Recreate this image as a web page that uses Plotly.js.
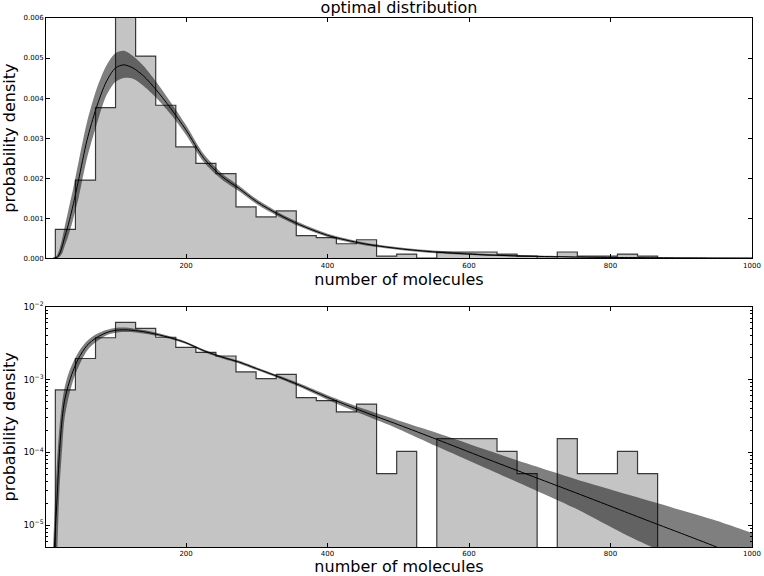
<!DOCTYPE html>
<html>
<head>
<meta charset="utf-8">
<script src="https://cdn.plot.ly/plotly-3.0.1.min.js"></script>
<style>html,body{margin:0;padding:0;background:#fff;}#chart{width:764px;height:576px;}</style>
</head>
<body>
<div id="chart"></div>
<script>
// Histogram bin edges (number of molecules) and densities
const binEdges = [15.2, 43.6, 72.0, 100.3, 128.7, 157.1, 185.5, 213.9, 242.2, 270.6, 299.0,
  327.4, 355.8, 384.1, 412.5, 440.9, 469.3, 497.7, 526.0, 554.4, 582.8,
  611.2, 639.6, 667.9, 696.3, 724.7, 753.1, 781.5, 809.8, 838.2, 866.6];
const binDensity = [7.2e-4, 1.95e-3, 3.76e-3, 6.1e-3, 5.05e-3, 3.82e-3, 2.78e-3, 2.37e-3, 2.11e-3, 1.28e-3,
  1.03e-3, 1.18e-3, 5.65e-4, 5.15e-4, 3.6e-4, 4.6e-4, 5.1e-5, 1.03e-4, 0, 1.54e-4,
  1.54e-4, 1.54e-4, 1.03e-4, 5.1e-5, 0, 1.54e-4, 5.1e-5, 5.1e-5, 1.03e-4, 5.1e-5];

// Fitted distribution (central curve and uncertainty band)
const curveX = [12, 14, 17.5, 21, 25, 28, 33, 40, 48, 60, 73, 87, 100, 112, 125, 140, 158, 178, 200, 225,
  250, 275, 300, 330, 360, 400, 450, 500, 555, 620, 682, 750, 820, 867, 900, 950, 1000];
const curveMid = [1e-6, 5e-6, 2.2e-5, 1.0e-4, 3.0e-4, 5.0e-4, 8.0e-4, 1.3e-3, 1.95e-3, 2.95e-3, 3.75e-3, 4.4e-3,
  4.75e-3, 4.83e-3, 4.75e-3, 4.55e-3, 4.2e-3, 3.75e-3, 3.2e-3, 2.5e-3,
  2.05e-3, 1.74e-3, 1.41e-3, 1.1e-3, 8.4e-4, 5.7e-4, 3.65e-4, 2.4e-4, 1.5e-4, 8.5e-5,
  5.0e-5, 2.8e-5, 1.53e-5, 1.02e-5, 7.7e-6, 5.0e-6, 3.2e-6];
const curveUpper = [5e-6, 1.4e-5, 7e-5, 2.2e-4, 5e-4, 7.5e-4, 1.15e-3, 1.7e-3, 2.4e-3, 3.4e-3, 4.2e-3, 4.8e-3,
  5.12e-3, 5.18e-3, 5.05e-3, 4.8e-3, 4.4e-3, 3.9e-3, 3.32e-3, 2.6e-3,
  2.13e-3, 1.81e-3, 1.47e-3, 1.15e-3, 8.9e-4, 6.1e-4, 4.0e-4, 2.75e-4, 1.85e-4, 1.12e-4,
  7.0e-5, 4.3e-5, 2.7e-5, 2.0e-5, 1.6e-5, 1.15e-5, 7.8e-6];
const curveLower = [1e-8, 1e-7, 3e-6, 3e-5, 1.2e-4, 2.8e-4, 5.2e-4, 9.5e-4, 1.5e-3, 2.5e-3, 3.3e-3, 4.05e-3,
  4.4e-3, 4.5e-3, 4.48e-3, 4.3e-3, 4.0e-3, 3.6e-3, 3.08e-3, 2.4e-3,
  1.97e-3, 1.67e-3, 1.35e-3, 1.05e-3, 7.95e-4, 5.3e-4, 3.3e-4, 2.1e-4, 1.2e-4, 6.3e-5,
  3.4e-5, 1.7e-5, 7.5e-6, 4.6e-6, 3.5e-6, 2.0e-6, 1.2e-6];

const xTickVals = [200, 400, 600, 800, 1000];
const linTickVals = [0, 0.001, 0.002, 0.003, 0.004, 0.005, 0.006];

function stepPolygon(floor) {
  const xs = [binEdges[0]], ys = [floor];
  for (let i = 0; i < binDensity.length; i++) {
    const d = binDensity[i] > 0 ? binDensity[i] : floor;
    xs.push(binEdges[i], binEdges[i + 1]);
    ys.push(d, d);
  }
  xs.push(binEdges[binEdges.length - 1]);
  ys.push(floor);
  return {xs, ys};
}

const HIST_FILL = '#c4c4c4';
const HIST_LINE = 'rgba(0,0,0,0.75)';
const BAND = 'rgba(0,0,0,0.5)';

function tracesFor(xa, ya, floor) {
  const p = stepPolygon(floor);
  return [
    {x: p.xs, y: p.ys, xaxis: xa, yaxis: ya, type: 'scatter', mode: 'lines', fill: 'toself',
     fillcolor: HIST_FILL, line: {color: HIST_LINE, width: 1.2}, hoverinfo: 'skip'},
    {x: curveX, y: curveLower, xaxis: xa, yaxis: ya, type: 'scatter', mode: 'lines',
     line: {width: 0, shape: 'spline', smoothing: 0.8}, hoverinfo: 'skip'},
    {x: curveX, y: curveUpper, xaxis: xa, yaxis: ya, type: 'scatter', mode: 'lines', fill: 'tonexty',
     fillcolor: BAND, line: {width: 0, shape: 'spline', smoothing: 0.8}, hoverinfo: 'skip'},
    {x: curveX, y: curveMid, xaxis: xa, yaxis: ya, type: 'scatter', mode: 'lines',
     line: {color: '#000', width: 1, shape: 'spline', smoothing: 0.8}}
  ];
}

const data = [].concat(tracesFor('x', 'y', 0), tracesFor('x2', 'y2', 1e-9));

const FONT = 'DejaVu Sans, Liberation Sans, sans-serif';
const tickFont = {family: FONT, size: 7, color: '#000'};
const axisTitleFont = {family: FONT, size: 16, color: '#000'};

function xAxis(anchor) {
  return {
    anchor: anchor, domain: [0, 1], range: [2, 1000], tickvals: xTickVals,
    ticks: 'inside', ticklen: 4, tickwidth: 1, tickcolor: '#000',
    showline: true, linecolor: '#000', linewidth: 1, mirror: 'ticks',
    showgrid: false, zeroline: false, tickfont: tickFont, automargin: false,
    title: {text: 'number of molecules', font: axisTitleFont, standoff: 4}
  };
}

const layout = {
  width: 764, height: 576,
  margin: {l: 46, r: 12, t: 18, b: 29},
  paper_bgcolor: '#fff', plot_bgcolor: '#fff',
  showlegend: false,
  font: {family: FONT, color: '#000'},
  title: {text: 'optimal distribution', font: {family: FONT, size: 16, color: '#000'},
          x: 0.5, xref: 'paper', xanchor: 'center', y: 1, yref: 'container', yanchor: 'top', pad: {t: 2}},
  xaxis: xAxis('y'),
  yaxis: {
    anchor: 'x', domain: [0.546, 1], range: [0, 0.006], tickvals: linTickVals, tickformat: '.3f',
    ticks: 'inside', ticklen: 4, tickwidth: 1, tickcolor: '#000',
    showline: true, linecolor: '#000', linewidth: 1, mirror: 'ticks',
    showgrid: false, zeroline: false, tickfont: tickFont, automargin: false,
    title: {text: 'probability density', font: axisTitleFont, standoff: 3}
  },
  xaxis2: xAxis('y2'),
  yaxis2: {
    anchor: 'x2', domain: [0, 0.454], type: 'log', range: [Math.log10(5e-6), -2],
    dtick: 1, exponentformat: 'power', showexponent: 'all',
    ticks: 'inside', ticklen: 4, tickwidth: 1, tickcolor: '#000',
    minor: {ticks: 'inside', ticklen: 2, tickcolor: '#000', dtick: 'D1', showgrid: false},
    showline: true, linecolor: '#000', linewidth: 1, mirror: 'ticks',
    showgrid: false, zeroline: false, tickfont: tickFont, automargin: false,
    title: {text: 'probability density', font: axisTitleFont, standoff: 3}
  }
};

Plotly.newPlot('chart', data, layout, {displayModeBar: false, staticPlot: true});
</script>
</body>
</html>
